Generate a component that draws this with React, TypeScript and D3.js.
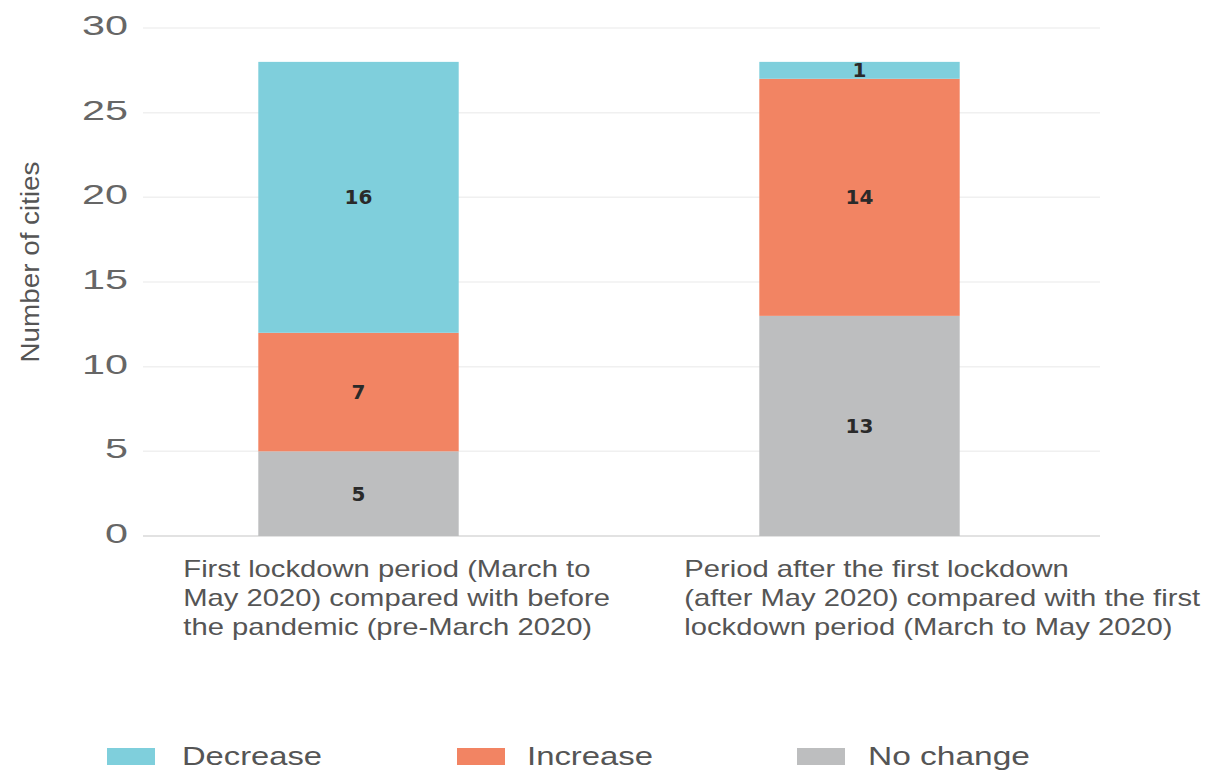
import React from "react";
import * as d3 from "d3";

const categories = [
  ["First lockdown period (March to", "May 2020) compared with before", "the pandemic (pre-March 2020)"],
  ["Period after the first lockdown", "(after May 2020) compared with the first", "lockdown period (March to May 2020)"],
];
const seriesNames = ["No change", "Increase", "Decrease"];
const noChange = [5, 13];
const increase = [7, 14];
const decrease = [16, 1];
const yTicks = [0, 5, 10, 15, 20, 25, 30];
const legendOrder = ["Decrease", "Increase", "No change"];

const colors: Record<string, string> = {
  "Decrease": "#7fcfdc",
  "Increase": "#f28463",
  "No change": "#bdbebf",
};

const W = 1218;
const H = 771;

export default function App() {
  const keys = categories.map((_, i) => String(i));
  const x = d3.scaleBand<string>().domain(keys).range([108, 1110]).paddingInner(0.6).paddingOuter(0.3);
  const y = d3.scaleLinear().domain([0, 30]).range([536, 28]);

  const rows = keys.map((k, i) => ({
    key: k,
    "No change": noChange[i],
    "Increase": increase[i],
    "Decrease": decrease[i],
  }));
  const stacked = d3.stack<any>().keys(seriesNames)(rows);

  const legendX = [107, 457, 797];
  const legendTextX = [182, 527, 868];
  const legendTextLen = [140, 126, 162];

  return (
    <svg width={W} height={H} style={{ position: "absolute", left: 0, top: 0, background: "#fff" }}>
      {/* gridlines */}
      {yTicks.map((t) => (
        <line key={"g" + t} x1={143} x2={1100} y1={y(t)} y2={y(t)}
          stroke={t === 0 ? "#e2e2e2" : "#f0f0f0"} strokeWidth={t === 0 ? 2 : 1.5} />
      ))}
      {/* tick labels */}
      {yTicks.map((t) => (
        <text key={"t" + t} x={128} y={y(t) + 7} textAnchor="end"
          fontFamily="Liberation Sans, Arial, sans-serif" fontSize={27} fill="#666"
          textLength={String(t).length * 23} lengthAdjust="spacingAndGlyphs">
          {t}
        </text>
      ))}
      {/* y title */}
      <text transform={`translate(39,262) rotate(-90)`} textAnchor="middle"
        fontFamily="Liberation Sans Narrow, Liberation Sans, Arial, sans-serif" fontSize={25} fill="#555"
        textLength={201} lengthAdjust="spacingAndGlyphs">
        Number of cities
      </text>
      {/* bars */}
      {stacked.map((s) => (
        <g key={s.key} fill={colors[s.key]}>
          {s.map((d, i) => (
            <rect key={i} x={x(keys[i])} width={x.bandwidth()} y={y(d[1])} height={y(d[0]) - y(d[1])} />
          ))}
        </g>
      ))}
      {/* value labels */}
      {stacked.map((s) => (
        <g key={"l" + s.key}>
          {s.map((d, i) => (
            <text key={i} x={(x(keys[i]) as number) + x.bandwidth() / 2} y={(y(d[0]) + y(d[1])) / 2 + 7}
              textAnchor="middle" fontFamily="DejaVu Sans, sans-serif" fontWeight="bold" fontSize={20} fill="#2a2a2a">
              {d[1] - d[0]}
            </text>
          ))}
        </g>
      ))}
      {/* category labels */}
      {categories.map((lines, i) => (
        <g key={"c" + i} transform={`translate(${(x(keys[i]) as number) - 75},577) scale(1.27,1)`}>
          <text x={0} y={0} fontFamily="Liberation Sans, Arial, sans-serif" fontSize={23} fill="#555">
            {lines.map((ln, j) => (
              <tspan key={j} x={0} dy={j === 0 ? 0 : 29}>{ln}</tspan>
            ))}
          </text>
        </g>
      ))}
      {/* legend */}
      {legendOrder.map((name, i) => (
        <g key={"lg" + name}>
          <rect x={legendX[i]} y={748} width={48} height={17} fill={colors[name]} />
          <text x={legendTextX[i]} y={765} fontFamily="Liberation Sans Narrow, Liberation Sans, Arial, sans-serif"
            fontSize={25} fill="#555" textLength={legendTextLen[i]} lengthAdjust="spacingAndGlyphs">
            {name}
          </text>
        </g>
      ))}
    </svg>
  );
}
